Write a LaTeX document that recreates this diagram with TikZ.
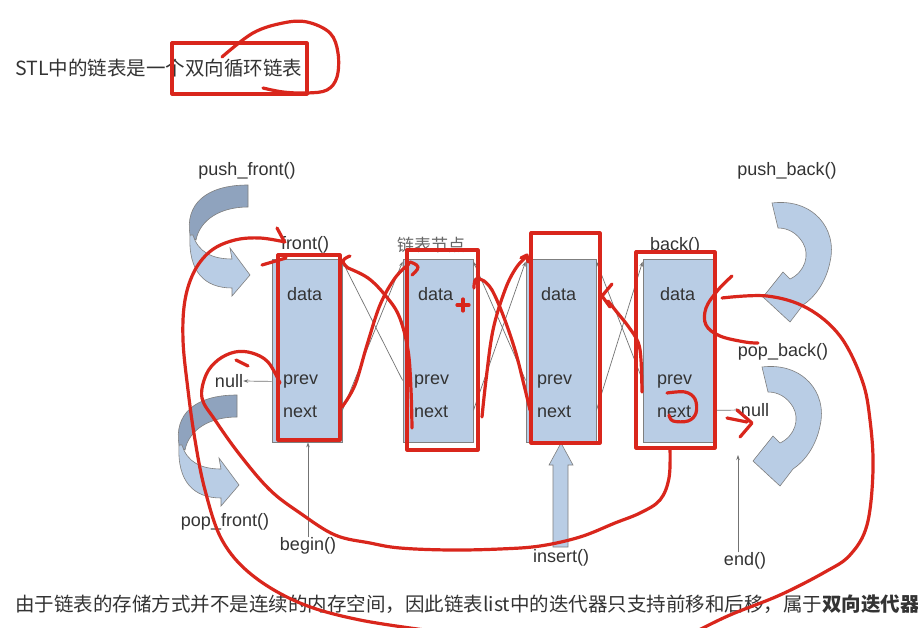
\documentclass[tikz,border=0pt]{standalone}
\usepackage{fontspec}
\setmainfont{Liberation Sans}
\newfontfamily\cjk{Noto Sans CJK SC}
\usetikzlibrary{arrows.meta}
\definecolor{boxblue}{HTML}{B9CDE5}
\definecolor{boxedge}{HTML}{7F7F7F}
\definecolor{arrowdark}{HTML}{8FA3BE}
\definecolor{annred}{HTML}{D9261C}
\definecolor{txt}{HTML}{333333}
\begin{document}
\begin{tikzpicture}[x=1pt,y=-1pt,
  listbox/.style={draw=boxedge, fill=boxblue, line width=0.8pt, minimum width=70pt, minimum height=183pt, inner sep=0pt},
  lbl/.style={font=\fontsize{18}{20}\selectfont, text=txt, inner sep=0pt},
  cjklbl/.style={font=\cjk\fontsize{19.5}{22}\selectfont, text=txt, inner sep=0pt},
  link/.style={draw=black!55, line width=0.7pt, -{Stealth[length=5pt,width=3.5pt]}},
  blockarrow/.style={fill=boxblue, draw=boxedge, line width=0.6pt},
  darkpart/.style={fill=arrowdark, draw=boxedge, line width=0.6pt},
  ann/.style={draw=annred, line width=3.2pt, line cap=round, line join=round},
]
\useasboundingbox (0,0) rectangle (918,628);
\clip (0,0) rectangle (918,628);
\fill[white] (0,0) rectangle (918,628);

% texts
\node[cjklbl, anchor=base west] (title) at (15,76) {STL中的链表是一个双向循环链表};
\node[cjklbl, anchor=base west] (bottomtext) at (15,611) {由于链表的存储方式并不是连续的内存空间，因此链表list中的迭代器只支持前移和后移，属于{\bfseries 双向迭代器}};

% boxes
\node[listbox] (n1) at (307,350.5) {};
\node[listbox] (n2) at (438,350.5) {};
\node[listbox] (n3) at (561,350.5) {};
\node[listbox] (n4) at (678,350.5) {};

\foreach \i/\dx/\px in {1/287/283, 2/418/414, 3/541/537, 4/660/657}{
  \node[lbl, anchor=west] (d\i) at (\dx,294) {data};
  \node[lbl, anchor=west] (p\i) at (\px,382) {prev};
  \node[lbl, anchor=west] (x\i) at (\px,412) {next};
}

% links between boxes
\foreach \a/\b in {n1/n2, n2/n3, n3/n4}{
  \draw[link] ([yshift=32pt]\a.south east) -- ([yshift=-3pt]\b.north west);
  \draw[link] ([yshift=62pt]\b.south west) -- ([yshift=-3pt]\a.north east);
}

% labels
\node[lbl] (front) at (305,245) {front()};
\node[lbl] (back) at (675,246) {back()};
\node[cjklbl, text=black!60, font=\cjk\fontsize{17}{19}\selectfont] (nodelbl) at (431,245) {链表节点};
\node[lbl] (nullL) at (229,381) {null};
\node[lbl] (nullR) at (755,410) {null};
\node[lbl] (pushf) at (247,171) {push\_front()};
\node[lbl] (popf) at (225,522) {pop\_front()};
\node[lbl] (pushb) at (787,171) {push\_back()};
\node[lbl] (popb) at (783,352) {pop\_back()};
\node[lbl] (beg) at (308,546) {begin()};
\node[lbl] (ins) at (561,558) {insert()};
\node[lbl] (endl) at (745,561) {end()};
\coordinate (endtip) at (738,455);

\draw[link] ([yshift=61pt]n1.south west) -- (nullL.east);
\draw[link] ([yshift=32pt]n4.south east) -- (nullR.west);
\draw[link] (beg.north) -- (beg.north |- n1.south);
\draw[link] (endl.north -| endtip) -- (endtip);

% insert block arrow
\draw[blockarrow] (553,547) -- (553,465) -- (549,465) -- (561,443) -- (573,465) -- (568,465) -- (568,547) -- cycle;

% curved arrows (front)
\foreach \ox/\oy in {248/185, 237/395}{
  \begin{scope}[shift={(\ox,\oy)}]
    \draw[darkpart] (0,0) .. controls (-43,0) and (-63,20) .. (-58,50) -- (-52,55) .. controls (-48,35) and (-28,22) .. (0,22) -- cycle;
    \draw[blockarrow] (-55,50) .. controls (-50,67) and (-36,74) .. (-16,74) -- (-18,63) -- (2,90) -- (-16,111) -- (-16,103) .. controls (-43,103) and (-60,87) .. (-58,50) -- cycle;
  \end{scope}
}
% circular arrows (back)
\foreach \ox/\oy in {772/203, 762/367}{
  \begin{scope}[shift={(\ox,\oy)}]
    \draw[blockarrow] (0,0) .. controls (40,-5) and (66,25) .. (58,59) .. controls (54,79) and (43,94) .. (31,102) -- (18,119) -- (-9,94) -- (11,69) -- (18,76) .. controls (33,69) and (38,52) .. (31,40) .. controls (25,30) and (16,25) .. (6,25) -- cycle;
  \end{scope}
}

% ---------------- red annotations ----------------
\draw[ann] (172,43) rectangle (307,94);
\draw[ann] plot[smooth, tension=0.6] coordinates {(222,57) (253,33) (283,23) (307,22) (330,33) (338,53) (337,77) (327,90) (307,93) (283,92) (263,88)};

\draw[ann] (278,255) rectangle (340,440);
\draw[ann] (407,250) rectangle (478,450);
\draw[ann] (531,233) rectangle (600,443);
\draw[ann] (636,252) rectangle (715,448);

% big left loop from front()
\draw[ann] (277,228) -- (284,241);
\draw[ann] plot[smooth, tension=0.6] coordinates {(285,242) (260,238) (235,240) (212,250) (195,270) (185,300) (183,340) (188,390) (195,440) (205,490) (222,540) (252,575) (300,603) (360,620) (440,632)};
\draw[ann] (262,265) -- (286,258);

% bottom loop from last node to first prev
\draw[ann] plot[smooth, tension=0.6] coordinates {(670,448) (669,478) (660,500) (640,513) (615,523) (580,537) (540,546) (500,549) (450,550) (400,548) (370,543) (335,535) (300,513) (270,490) (240,455) (215,420) (202,398) (206,375) (218,360) (235,352) (252,353) (268,362) (280,383)};
\draw[ann] (236,360) -- (248,366);

% big right loop
\draw[ann] plot[smooth, tension=0.6] coordinates {(722,298) (767,296) (807,308) (840,336) (862,380) (870,420) (873,470) (867,525) (850,555) (825,572) (780,595) (730,615) (695,632)};
\draw[ann] plot[smooth, tension=0.6] coordinates {(732,276) (718,290) (706,308) (706,325) (720,336) (745,342) (758,343)};

% crossings
\draw[ann] plot[smooth, tension=0.6] coordinates {(342,407) (355,385) (367,345) (380,305) (395,278) (409,264)};
\draw[ann] plot[smooth, tension=0.8] coordinates {(410,262) (418,267) (412,275)};
\draw[ann] plot[smooth, tension=0.6] coordinates {(412,428) (411,390) (408,350) (399,316) (385,295) (368,278) (348,268)};
\draw[ann] plot[smooth, tension=0.8] coordinates {(350,256) (343,261) (348,268)};

\draw[ann] plot[smooth, tension=0.6] coordinates {(482,417) (486,380) (493,330) (505,290) (516,268) (527,256)};
\draw[ann] (521,258) -- (527,255) -- (528,262);
\draw[ann] plot[smooth, tension=0.6] coordinates {(530,410) (524,385) (515,350) (503,315) (492,290) (484,281)};
\draw[ann] plot[smooth, tension=0.8] coordinates {(484,281) (476,279) (474,288)};

\draw[ann] plot[smooth, tension=0.6] coordinates {(642,392) (641,360) (638,342) (628,326) (616,311) (608,301)};
\draw[ann] (612,284) -- (602,296) -- (610,307);

\draw[ann] (457,305) -- (469,305);
\draw[ann] (463,299) -- (463,311);

\draw[ann] plot[smooth, tension=0.6] coordinates {(667,393) (685,392) (695,399) (696,413) (688,421) (673,421) (669,415)};
\draw[ann] (727,418) -- (747,422);
\draw[ann] (737,410) -- (752,423) -- (740,437);
\end{tikzpicture}
\end{document}
